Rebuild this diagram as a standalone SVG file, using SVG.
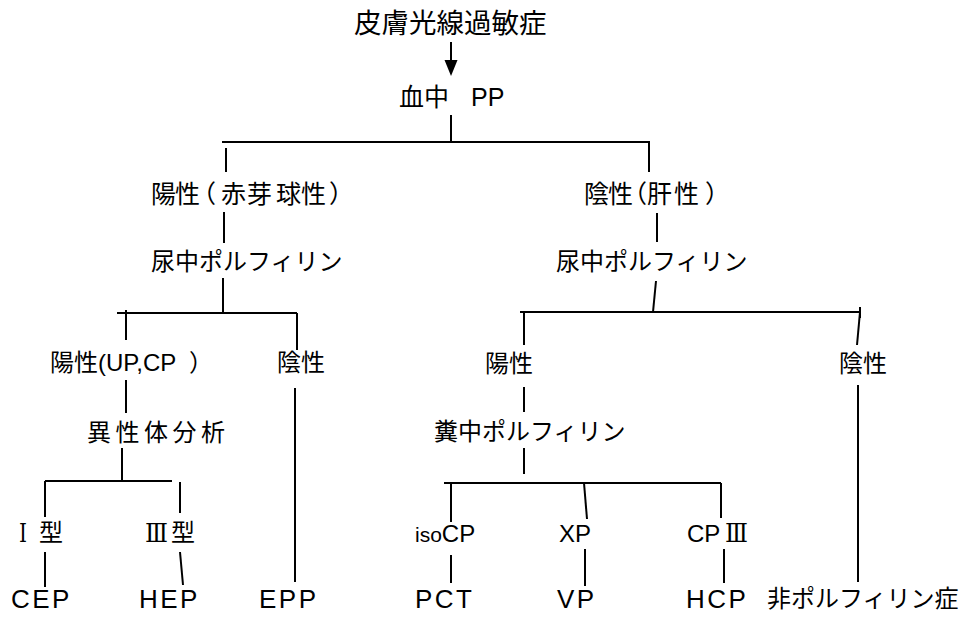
<svg xmlns="http://www.w3.org/2000/svg" width="965" height="617" viewBox="0 0 965 617">
<style>
text{font-family:"Liberation Sans","Noto Sans CJK JP",sans-serif;fill:#000;font-size:24px}
.t{font-size:27.5px}
.b{letter-spacing:2.5px;font-size:26px}
.r{font-family:"DejaVu Serif","Liberation Serif",serif;font-size:26px}
.e line{stroke:#000;stroke-width:2;fill:none}
</style>
<rect width="965" height="617" fill="#fff"/>
<g id="n-title"><text class="t" x="354" y="33">皮膚光線過敏症</text></g>
<g id="n-blood"><text x="399" y="106" style="font-size:25px">血中<tspan x="471">PP</tspan></text></g>
<g id="n-pos1"><text x="151 175 191 221 247 276 301 329" y="203" style="font-size:25px">陽性（赤芽球性）</text></g>
<g id="n-neg1"><text x="584 608 622 647 674 705" y="203" style="font-size:25px">陰性（肝性）</text></g>
<g id="n-urine1"><text x="151" y="270">尿中ポルフィリン</text></g>
<g id="n-urine2"><text x="556" y="270">尿中ポルフィリン</text></g>
<g id="n-pos2"><text x="50" y="371">陽性(UP,CP<tspan x="189">）</tspan></text></g>
<g id="n-neg2"><text x="277" y="371">陰性</text></g>
<g id="n-pos3"><text x="485" y="372">陽性</text></g>
<g id="n-neg3"><text x="839" y="372">陰性</text></g>
<g id="n-iso"><text x="87" y="441" style="letter-spacing:4.5px">異性体分析</text></g>
<g id="n-stool"><text x="434" y="440">糞中ポルフィリン</text></g>
<g id="n-t1"><text class="r" x="19" y="542" textLength="8" lengthAdjust="spacingAndGlyphs">Ⅰ</text><text x="39" y="541">型</text></g>
<g id="n-t3"><text class="r" x="145" y="542" textLength="23" lengthAdjust="spacingAndGlyphs">Ⅲ</text><text x="171" y="541">型</text></g>
<g id="n-isocp"><text x="415" y="542"><tspan style="font-size:21px">iso</tspan>CP</text></g>
<g id="n-xp"><text x="559" y="542">XP</text></g>
<g id="n-cp3"><text x="687" y="542">CP</text><text class="r" x="725" y="542" textLength="23" lengthAdjust="spacingAndGlyphs">Ⅲ</text></g>
<g id="n-cep"><text class="b" x="11" y="608">CEP</text></g>
<g id="n-hep"><text class="b" x="139" y="608">HEP</text></g>
<g id="n-epp"><text class="b" x="259" y="608">EPP</text></g>
<g id="n-pct"><text class="b" x="415" y="608">PCT</text></g>
<g id="n-vp"><text class="b" x="557" y="608">VP</text></g>
<g id="n-hcp"><text class="b" x="686" y="608">HCP</text></g>
<g id="n-non"><text x="767" y="607">非ポルフィリン症</text></g>
<g id="connectors" class="e">
<line x1="451" y1="42" x2="451" y2="62"/>
<polygon points="444.5,60 457.5,60 451,76" fill="#000"/>
<line x1="451" y1="115" x2="451" y2="142"/>
<line x1="222" y1="142" x2="650" y2="142"/>
<line x1="226" y1="148" x2="226" y2="172"/>
<line x1="649" y1="142" x2="649" y2="172"/>
<line x1="224" y1="212" x2="224" y2="243"/>
<line x1="657" y1="213" x2="657" y2="242"/>
<line x1="223" y1="278" x2="223" y2="313"/>
<line x1="117" y1="313" x2="297" y2="313"/>
<line x1="126" y1="310" x2="126" y2="340"/>
<line x1="297" y1="313" x2="297" y2="350"/>
<line x1="656" y1="281" x2="653" y2="312"/>
<line x1="520" y1="312" x2="860" y2="312"/>
<line x1="524" y1="312" x2="524" y2="345"/>
<line x1="860" y1="307" x2="860" y2="318"/>
<line x1="860" y1="312" x2="857" y2="345"/>
<line x1="126" y1="380" x2="126" y2="413"/>
<line x1="122" y1="448" x2="122" y2="481"/>
<line x1="45" y1="481" x2="172" y2="481"/>
<line x1="45" y1="481" x2="45" y2="517"/>
<line x1="180" y1="482" x2="180" y2="513"/>
<line x1="45" y1="552" x2="45" y2="587"/>
<line x1="180" y1="552" x2="183" y2="585"/>
<line x1="295" y1="388" x2="295" y2="582"/>
<line x1="524" y1="387" x2="524" y2="412"/>
<line x1="524" y1="448" x2="524" y2="474"/>
<line x1="444" y1="483" x2="721" y2="483"/>
<line x1="451" y1="483" x2="451" y2="522"/>
<line x1="584" y1="483" x2="587" y2="519"/>
<line x1="721" y1="483" x2="721" y2="518"/>
<line x1="451" y1="555" x2="451" y2="583"/>
<line x1="585" y1="549" x2="585" y2="586"/>
<line x1="724" y1="549" x2="724" y2="583"/>
<line x1="858" y1="385" x2="858" y2="582"/>
</g>
</svg>
